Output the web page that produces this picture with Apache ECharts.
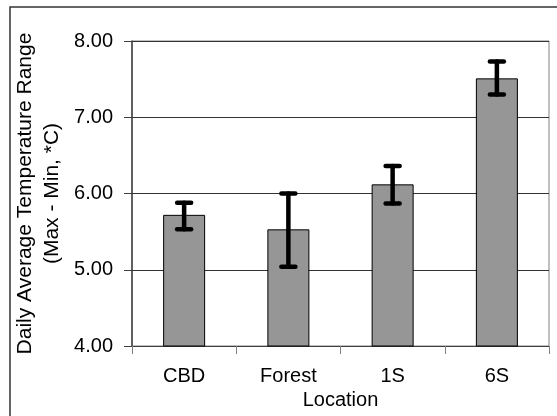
<!DOCTYPE html>
<html>
<head>
<meta charset="utf-8">
<script src="https://cdn.jsdelivr.net/npm/echarts@6/dist/echarts.min.js"></script>
<style>
  html, body { margin: 0; padding: 0; background: #fff; }
  #main { width: 557px; height: 416px; }
</style>
</head>
<body>
<div id="main"></div>
<script>
// data
var categories = ['CBD', 'Forest', '1S', '6S'];
var means = [5.72, 5.53, 6.12, 7.51];
var errLow = [5.53, 5.04, 5.87, 7.30];
var errHigh = [5.88, 6.00, 6.36, 7.73];
var yTicks = [4, 5, 6, 7, 8];

var FONT = '"Liberation Sans", Arial, sans-serif';

var errData = [];
for (var i = 0; i < categories.length; i++) {
    errData.push([i, errLow[i], errHigh[i]]);
}

// draws one error bar (stem + two caps)
function renderError(params, api) {
    var x = api.value(0);
    var lo = api.coord([x, api.value(1)]);
    var hi = api.coord([x, api.value(2)]);
    var half = 7;
    var style = { stroke: '#000', lineWidth: 4.5, lineCap: 'round' };
    return {
        type: 'group',
        children: [
            { type: 'line', shape: { x1: lo[0], y1: lo[1], x2: hi[0], y2: hi[1] }, style: style },
            { type: 'line', shape: { x1: hi[0] - half, y1: hi[1], x2: hi[0] + half, y2: hi[1] }, style: style },
            { type: 'line', shape: { x1: lo[0] - half, y1: lo[1], x2: lo[0] + half, y2: lo[1] }, style: style }
        ]
    };
}

var options = {
    animation: false,
    backgroundColor: '#fff',
    textStyle: { fontFamily: FONT },
    graphic: [{
        type: 'rect',
        shape: { x: 10, y: 7, width: 560, height: 420 },
        style: { fill: null, stroke: '#333', lineWidth: 1.5 },
        z: -1
    }],
    grid: {
        left: 132, top: 41, right: 8, bottom: 70,
        show: true,
        borderColor: '#808080',
        borderWidth: 1,
        backgroundColor: '#fff'
    },
    xAxis: {
        type: 'category',
        data: categories,
        name: 'Location',
        nameLocation: 'middle',
        nameGap: 42,
        nameTextStyle: { fontSize: 20, color: '#000', fontFamily: FONT },
        axisLine: { lineStyle: { color: '#404040', width: 1 } },
        axisTick: { show: true, length: 8, inside: false, lineStyle: { color: '#808080' } },
        axisLabel: { fontSize: 20, color: '#000', margin: 20, fontFamily: FONT }
    },
    yAxis: {
        type: 'value',
        min: yTicks[0],
        max: yTicks[yTicks.length - 1],
        interval: 1,
        name: 'Daily Average Temperature Range\n(Max - Min, *C)',
        nameLocation: 'middle',
        nameGap: 40,
        nameTextStyle: {
            fontSize: 21, color: '#000', lineHeight: 27, align: 'center', fontFamily: FONT,
            padding: [0, 0, -6, 0]
        },
        axisLine: { show: true, lineStyle: { color: '#404040', width: 1.5 } },
        axisTick: { show: true, length: 8, lineStyle: { color: '#404040' } },
        axisLabel: {
            fontSize: 20, color: '#000', margin: 19, fontFamily: FONT,
            formatter: function (v) { return v.toFixed(2); }
        },
        splitLine: { show: true, lineStyle: { color: '#333', width: 1 } }
    },
    series: [
        {
            type: 'bar',
            data: means,
            barWidth: 42,
            itemStyle: { color: '#969696', borderColor: '#000', borderWidth: 1 },
            z: 2
        },
        {
            type: 'custom',
            data: errData,
            renderItem: renderError,
            z: 3
        }
    ]
};

var Chart = echarts.init(document.getElementById('main'));
Chart.setOption(options);
</script>
</body>
</html>
